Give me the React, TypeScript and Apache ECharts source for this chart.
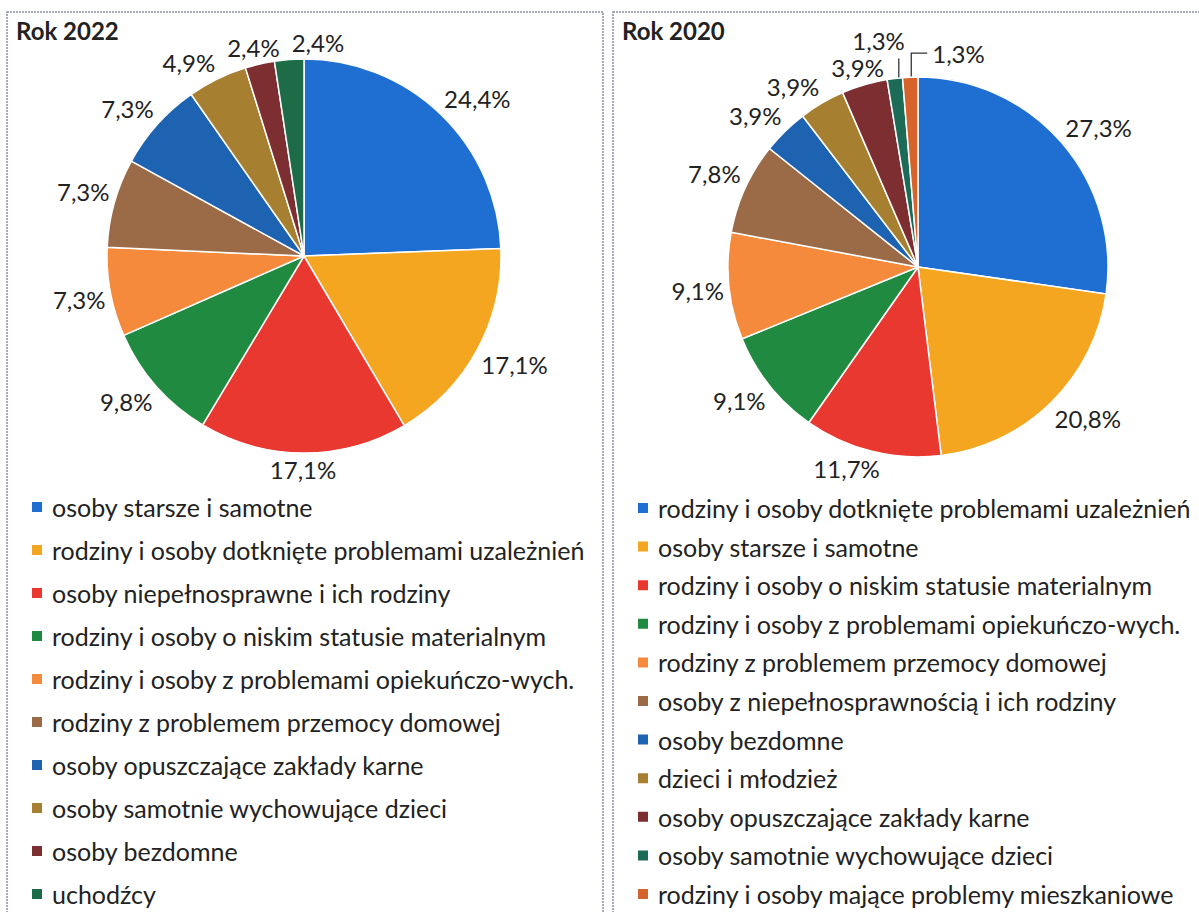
import React, { useEffect, useRef } from "react";
import * as echarts from "echarts";

const categories2022 = [
  "osoby starsze i samotne",
  "rodziny i osoby dotknięte problemami uzależnień",
  "osoby niepełnosprawne i ich rodziny",
  "rodziny i osoby o niskim statusie materialnym",
  "rodziny i osoby z problemami opiekuńczo-wych.",
  "rodziny z problemem przemocy domowej",
  "osoby opuszczające zakłady karne",
  "osoby samotnie wychowujące dzieci",
  "osoby bezdomne",
  "uchodźcy",
];
const values2022 = [24.4, 17.1, 17.1, 9.8, 7.3, 7.3, 7.3, 4.9, 2.4, 2.4];
const colors2022 = [
  "#1f6fd2", "#f4a620", "#e8382f", "#1f8a40", "#f5893c",
  "#9b6b48", "#1e62b2", "#a67f31", "#7c2e31", "#1e6b47",
];

const categories2020 = [
  "rodziny i osoby dotknięte problemami uzależnień",
  "osoby starsze i samotne",
  "rodziny i osoby o niskim statusie materialnym",
  "rodziny i osoby z problemami opiekuńczo-wych.",
  "rodziny z problemem przemocy domowej",
  "osoby z niepełnosprawnością i ich rodziny",
  "osoby bezdomne",
  "dzieci i młodzież",
  "osoby opuszczające zakłady karne",
  "osoby samotnie wychowujące dzieci",
  "rodziny i osoby mające problemy mieszkaniowe",
];
const values2020 = [27.3, 20.8, 11.7, 9.1, 9.1, 7.8, 3.9, 3.9, 3.9, 1.3, 1.3];
const colors2020 = [
  "#1f6fd2", "#f4a620", "#e8382f", "#1f8a40", "#f5893c",
  "#9b6b48", "#1e62b2", "#a67f31", "#7c2e31", "#1c6b56", "#d6632c",
];

const FONT = "Lato, 'Open Sans', sans-serif";
const fmt = (v: number) => v.toFixed(1).replace(".", ",") + "%";
const clamp = (v: number) => Math.max(-1, Math.min(1, v));

type PanelProps = {
  title: string;
  cats: string[];
  vals: number[];
  cols: string[];
  cx: number;
  cy: number;
  r: number;
  legendGap: number;
  legendTop: number;
  leaders: boolean;
  left: number;
  width: number;
};

function Panel(p: PanelProps) {
  const ref = useRef<HTMLDivElement>(null);
  useEffect(() => {
    if (!ref.current) return;
    const chart = echarts.init(ref.current, undefined, { renderer: "svg" });
    const total = p.vals.reduce((a, b) => a + b, 0);
    const mids: number[] = [];
    let cum = 0;
    p.vals.forEach((v) => {
      mids.push(((cum + v / 2) / total) * Math.PI * 2);
      cum += v;
    });
    const n = p.vals.length;
    let placed: { x1: number; x2: number; y1: number; y2: number }[] = [];

    const data = p.cats.map((name, i) => {
      const d: any = { name, value: p.vals[i], itemStyle: { color: p.cols[i] } };
      if (p.leaders && i >= n - 2) {
        d.labelLine = { show: true, lineStyle: { color: "#333", width: 1.3 } };
      }
      return d;
    });

    const labelLayout = (params: any) => {
      const i = params.dataIndex;
      if (i === 0) placed = [];
      const a = mids[i];
      const dx = Math.sin(a);
      const dy = -Math.cos(a);
      const w = params.labelRect.width;
      const h = params.labelRect.height;
      if (p.leaders && i >= n - 2) {
        const x0 = p.cx + p.r * dx;
        const y0 = p.cy + p.r * dy;
        if (i === n - 2) {
          return {
            x: x0 + 10,
            y: y0 - 26,
            align: "right",
            verticalAlign: "bottom",
            labelLinePoints: [[x0 + 4, y0], [x0 + 4, y0 - 20], [x0 + 4, y0 - 20]],
          };
        }
        return {
          x: x0 + 22,
          y: y0 - 24,
          align: "left",
          verticalAlign: "middle",
          labelLinePoints: [[x0 + 1, y0], [x0 + 1, y0 - 24], [x0 + 17, y0 - 24]],
        };
      }
      const rr = p.r + 5;
      const px = p.cx + rr * dx;
      const py = p.cy + rr * dy;
      let x = px + (w / 2) * clamp(dx * 3);
      const y = py + (h / 2) * clamp(dy * 3);
      // push right if overlapping a previously placed label
      for (const b of placed) {
        const bx1 = x - w / 2;
        const overlapY = y - h / 2 < b.y2 && y + h / 2 > b.y1;
        if (overlapY && bx1 < b.x2 + 12 && x + w / 2 > b.x1) {
          x = b.x2 + 12 + w / 2;
        }
      }
      placed.push({ x1: x - w / 2, x2: x + w / 2, y1: y - h / 2, y2: y + h / 2 });
      return { x, y, align: "center", verticalAlign: "middle" };
    };

    chart.setOption({
      animation: false,
      backgroundColor: "#ffffff",
      graphic: [
        {
          type: "rect",
          shape: { x: 7, y: 12, width: 596, height: 960 },
          style: { fill: "none", stroke: "#8a8ea6", lineWidth: 1.5, lineDash: [2, 1] },
        },
        {
          type: "text",
          left: 16,
          top: 18,
          style: { text: p.title, font: `bold 24px ${FONT}`, fill: "#222" },
        },
      ],
      legend: {
        data: p.cats,
        orient: "vertical",
        left: 30,
        top: p.legendTop,
        height: 418,
        padding: 0,
        icon: "rect",
        itemWidth: 12,
        itemHeight: 12,
        itemGap: p.legendGap,
        selectedMode: false,
        textStyle: { fontFamily: FONT, fontSize: 25, color: "#222", lineHeight: 26, padding: [0, 0, 0, 4] },
      },
      series: [
        {
          type: "pie",
          center: [p.cx, p.cy],
          radius: p.r,
          startAngle: 90,
          clockwise: true,
          avoidLabelOverlap: false,
          itemStyle: { borderColor: "#ffffff", borderWidth: 1.5 },
          label: {
            show: true,
            position: "outside",
            formatter: (q: any) => fmt(q.value),
            fontFamily: FONT,
            fontSize: 24,
            color: "#222",
          },
          labelLine: { show: false, length: 5, length2: 0 },
          labelLayout,
          data,
        },
      ],
    });
    return () => chart.dispose();
  }, []);
  return (
    <div
      ref={ref}
      style={{ position: "absolute", left: p.left, top: 0, width: p.width, height: 912, background: "#fff" }}
    />
  );
}

export default function App() {
  return (
    <div style={{ position: "fixed", left: 0, top: 0, width: 1199, height: 912, background: "#fff" }}>
      <Panel
        title="Rok 2022"
        cats={categories2022}
        vals={values2022}
        cols={colors2022}
        cx={304}
        cy={256}
        r={197}
        legendGap={17}
        legendTop={494}
        leaders={false}
        left={0}
        width={608}
      />
      <Panel
        title="Rok 2020"
        cats={categories2020}
        vals={values2020}
        cols={colors2020}
        cx={312}
        cy={267}
        r={190}
        legendGap={12.6}
        legendTop={495}
        leaders={true}
        left={606}
        width={593}
      />
    </div>
  );
}
